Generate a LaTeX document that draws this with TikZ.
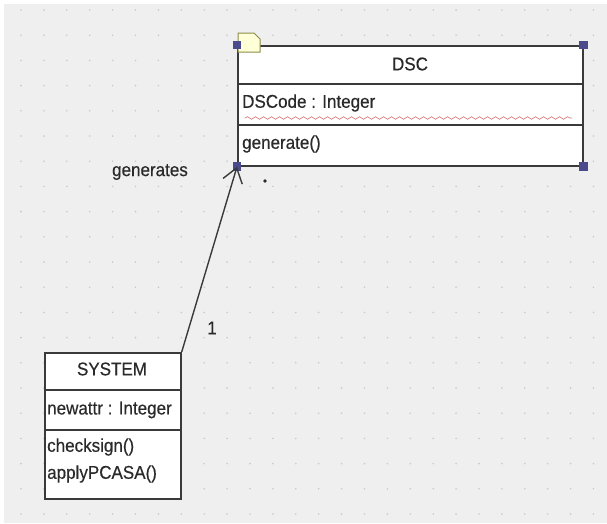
\documentclass[tikz,border=0pt]{standalone}
\usepackage{fontspec}
\setmainfont{Liberation Sans}[FakeBold=0.4,FakeStretch=0.92]
\usetikzlibrary{arrows.meta,decorations.pathmorphing}
\definecolor{canvas}{HTML}{EFEFEF}
\definecolor{griddot}{HTML}{CACACA}
\definecolor{outline}{HTML}{3A3A3A}
\definecolor{handle}{HTML}{4A4A8C}
\definecolor{notefill}{HTML}{FFFFD8}
\definecolor{noteline}{HTML}{8C8C48}
\definecolor{squiggle}{HTML}{D88080}
\definecolor{ink}{HTML}{2A2A2A}
\tikzset{
  classbox/.style={draw=outline, line width=1.7pt, fill=white, rectangle,
    inner sep=0pt, anchor=north west},
  textstyle/.style={inner sep=0pt, text=ink,
    font=\fontsize{18.5}{20}\selectfont},
  member/.style={textstyle, anchor=west},
  title/.style={textstyle, anchor=center},
  divider/.style={draw=outline, line width=1.5pt},
  grip/.style={fill=handle, draw=none, minimum size=8.5pt, inner sep=0pt, rectangle},
  assoc/.style={draw=outline, line width=1.4pt,
    -{Straight Barb[length=14pt,width=20pt,line width=1.4pt]}},
  label/.style={textstyle}
}
\begin{document}
\begin{tikzpicture}[x=1pt,y=-1pt]
  % canvas and dotted grid
  \fill[white] (0,0) rectangle (607,523);
  \fill[canvas] (4,4) rectangle (607,523);
  \useasboundingbox (0,0) rectangle (607,523);
  \foreach \gx in {0,...,25} {
    \foreach \gy in {0,...,20} {
      \fill[griddot] ({21+22.9*\gx},{10+25.2*\gy}) circle (0.9pt);
    }
  }

  % DSC class
  \node[classbox, minimum width=345pt, minimum height=120pt] (dsc) at (237,45) {};
  \draw[divider] (237,84) -- (582,84);
  \draw[divider] (237,125) -- (582,125);
  \node[title] (dscname) at (410,64) {DSC};
  \node[member] (dscattr) at (242,103) {DSCode : Integer};
  \draw[squiggle, line width=0.7pt, decorate,
    decoration={snake, amplitude=1.3pt, segment length=8pt}] (245,118) -- (572,118);
  \node[member] (dscop) at (242,144) {generate()};

  % note marker on the DSC class
  \draw[noteline, fill=notefill, line width=1pt]
    (238,33) -- (254,33) -- (260,39) -- (260,52) -- (238,52) -- cycle;

  % selection handles
  \node[grip] (h1) at (dsc.north west) {};
  \node[grip] (h2) at (dsc.north east) {};
  \node[grip] (h3) at (dsc.south west) {};
  \node[grip] (h4) at (dsc.south east) {};

  % SYSTEM class
  \node[classbox, minimum width=136pt, minimum height=146pt] (sys) at (44,352) {};
  \draw[divider] (44,390) -- (180,390);
  \draw[divider] (44,430) -- (180,430);
  \node[title] (sysname) at (112,369) {SYSTEM};
  \node[member] (sysattr) at (47,410) {newattr : Integer};
  \node[member] (sysop1) at (47,447) {checksign()};
  \node[member] (sysop2) at (47,474) {applyPCASA()};

  % association
  \draw[assoc] (sys.north east) -- (dsc.south west);
  \node[label] (assocname) at (150,172) {generates};
  \node[label] (multsys) at (212,328) {1};
  \fill[ink] (265,181) circle (1.8pt);
\end{tikzpicture}
\end{document}
